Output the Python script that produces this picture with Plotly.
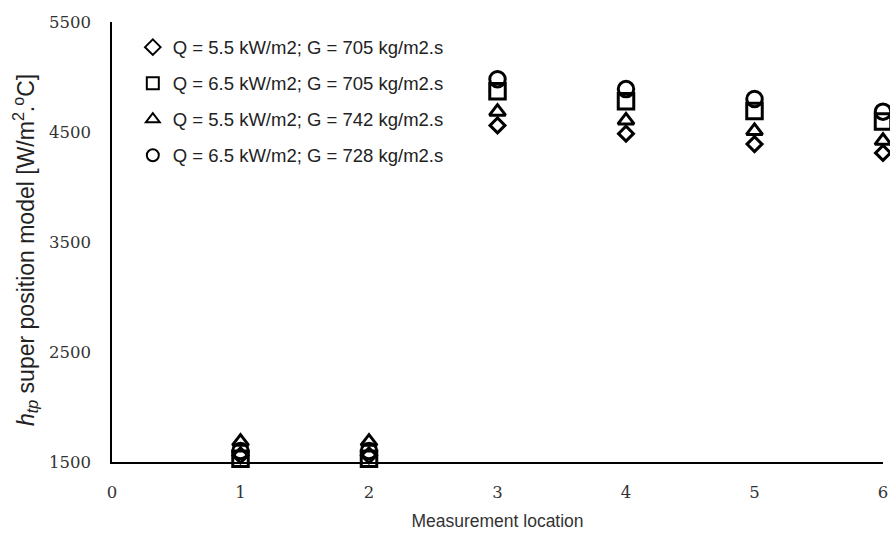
import plotly.graph_objects as go

locations = [1, 2, 3, 4, 5, 6]

series_names = [
    "Q = 5.5 kW/m2; G = 705 kg/m2.s",
    "Q = 6.5 kW/m2; G = 705 kg/m2.s",
    "Q = 5.5 kW/m2; G = 742 kg/m2.s",
    "Q = 6.5 kW/m2; G = 728 kg/m2.s",
]
q55_g705 = [1560, 1560, 4560, 4485, 4390, 4310]
q65_g705 = [1530, 1530, 4870, 4780, 4690, 4595]
q55_g742 = [1685, 1685, 4685, 4605, 4510, 4420]
q65_g728 = [1600, 1600, 4980, 4890, 4800, 4685]

series_values = [q55_g705, q65_g705, q55_g742, q65_g728]
symbols = ["diamond-open", "square-open", "triangle-up-open", "circle-open"]
sizes = [11.5, 15.5, 14, 15.5]

x_ticks = [0, 1, 2, 3, 4, 5, 6]
y_ticks = [1500, 2500, 3500, 4500, 5500]

y_title = "<i>h</i><sub><i>tp</i></sub> super position model [W/m<sup>2</sup>.<sup>o</sup>C]"

fig = go.Figure()
for i, (name, vals) in enumerate(zip(series_names, series_values)):
    fig.add_trace(go.Scatter(
        x=locations, y=vals, name=name, mode="markers",
        legendgroup=f"g{i}",
        cliponaxis=False,
        marker=dict(symbol=symbols[i], size=sizes[i], color="black",
                    line=dict(color="black", width=3)),
    ))

tick_font = dict(family="DejaVu Serif", size=16.5, color="#333333")
fig.update_layout(
    width=890, height=533,
    margin=dict(l=112, r=7, t=22, b=71, autoexpand=False),
    plot_bgcolor="white", paper_bgcolor="white",
    showlegend=True,
    legend=dict(
        x=0.027, y=0.985, xanchor="left", yanchor="top",
        traceorder="grouped", tracegroupgap=9,
        font=dict(family="Liberation Sans", size=18.5, color="#222222"),
        bgcolor="rgba(0,0,0,0)", itemsizing="constant",
    ),
    xaxis=dict(
        range=[0, 6], tickvals=x_ticks, ticktext=[str(v) for v in x_ticks],
        showgrid=False, zeroline=False, showline=True, linecolor="black",
        linewidth=1.5, ticks="", ticklabelstandoff=14, tickfont=tick_font,
        title=dict(text="Measurement location", standoff=14,
                   font=dict(family="Liberation Sans", size=17.5, color="#333333")),
    ),
    yaxis=dict(
        range=[1500, 5500], tickvals=y_ticks, ticktext=[str(v) for v in y_ticks],
        showgrid=False, zeroline=False, showline=True, linecolor="black",
        linewidth=1.5, ticks="", ticklabelstandoff=16, tickfont=tick_font,
    ),
    annotations=[dict(
        text=y_title, textangle=-90, showarrow=False,
        xref="paper", yref="paper", x=(25 - 112) / 771, y=(462 - 250) / 440,
        xanchor="center", yanchor="middle",
        font=dict(family="Liberation Sans", size=23, color="#222222"),
    )],
)

fig.write_html("out.html", config={"displayModeBar": False},
               post_script="document.body.style.margin='0';")
